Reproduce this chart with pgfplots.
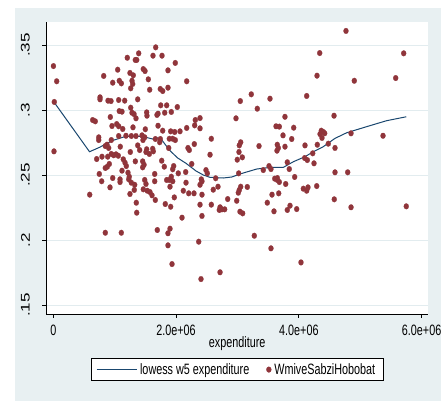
\documentclass[border=0pt]{standalone}
\usepackage{fontspec}
\setmainfont{Liberation Sans}
\newfontfamily\hfont[FakeStretch=0.72]{Liberation Sans}
\newfontfamily\vfont[FakeStretch=1.36]{Liberation Sans}
\usepackage{pgfplots}
\usepackage{pgfplotstable}
\pgfplotsset{compat=1.18}

\definecolor{stnavy}{RGB}{26,71,111}
\definecolor{stmaroon}{RGB}{144,53,59}
\definecolor{stbg}{RGB}{232,240,242}
\definecolor{stgrid}{RGB}{226,236,239}

\newcommand{\htext}{\hfont\fontsize{15}{17}\selectfont}
\newcommand{\vtext}{\vfont\fontsize{12.5}{14}\selectfont}

\pgfplotsset{longline/.style={legend image code/.code={\draw[##1] (0pt,0pt) -- (40pt,0pt);}}}

% share of spending vs. total expenditure
\pgfplotstableread{
x y
0.002e6 0.3338
0.055e6 0.3221
0.016e6 0.3062
0.011e6 0.2682
1.668e6 0.3482
1.771e6 0.3418
1.624e6 0.3418
1.391e6 0.3436
1.205e6 0.3402
1.336e6 0.3385
1.359e6 0.3385
1.987e6 0.3362
1.049e6 0.3310
1.466e6 0.3315
1.494e6 0.3300
1.868e6 0.3305
1.249e6 0.3285
1.303e6 0.3267
0.821e6 0.3262
1.548e6 0.3236
2.173e6 0.3221
1.075e6 0.3225
1.108e6 0.3205
0.968e6 0.3210
1.282e6 0.3225
1.293e6 0.3200
1.261e6 0.3167
1.743e6 0.3162
1.782e6 0.3146
1.868e6 0.3172
1.570e6 0.3156
0.761e6 0.3098
0.761e6 0.3082
0.891e6 0.3072
0.940e6 0.3069
1.065e6 0.3077
1.163e6 0.3072
1.375e6 0.3082
1.750e6 0.3036
1.847e6 0.3036
2.020e6 0.3023
1.261e6 0.3018
1.075e6 0.2992
1.119e6 0.2987
1.282e6 0.2979
1.315e6 0.2969
1.521e6 0.2982
1.526e6 0.2956
1.689e6 0.2962
1.706e6 0.2972
1.815e6 0.2979
1.922e6 0.2985
1.347e6 0.2936
0.929e6 0.2946
0.642e6 0.2923
0.684e6 0.2913
0.956e6 0.2877
1.033e6 0.2892
1.065e6 0.2875
1.131e6 0.2854
1.298e6 0.2867
1.499e6 0.2852
1.706e6 0.2879
1.782e6 0.2841
1.912e6 0.2836
1.978e6 0.2831
2.064e6 0.2836
2.173e6 0.2862
1.065e6 0.2800
1.184e6 0.2802
1.271e6 0.2800
1.347e6 0.2800
1.445e6 0.2805
1.489e6 0.2790
1.461e6 0.2769
0.740e6 0.2790
0.740e6 0.2769
0.945e6 0.2769
1.662e6 0.2777
1.743e6 0.2777
1.733e6 0.2752
1.890e6 0.2779
1.945e6 0.2779
1.987e6 0.2769
0.847e6 0.2723
0.875e6 0.2733
0.902e6 0.2708
1.091e6 0.2718
1.375e6 0.2728
1.407e6 0.2692
1.521e6 0.2698
1.619e6 0.2702
1.629e6 0.2682
1.880e6 0.2708
2.194e6 0.2708
2.215e6 0.2692
1.254e6 0.2677
1.510e6 0.2677
1.564e6 0.2662
0.945e6 0.2662
0.984e6 0.2652
1.021e6 0.2659
1.059e6 0.2648
0.793e6 0.2641
0.707e6 0.2623
0.886e6 0.2641
1.140e6 0.2621
1.168e6 0.2595
1.189e6 0.2569
1.336e6 0.2605
1.456e6 0.2605
1.478e6 0.2579
1.456e6 0.2559
1.766e6 0.2610
1.808e6 0.2564
1.961e6 0.2569
1.945e6 0.2544
0.912e6 0.2585
0.880e6 0.2564
0.847e6 0.2554
2.255e6 0.2585
1.119e6 0.2533
1.217e6 0.2518
1.238e6 0.2487
1.228e6 0.2467
0.749e6 0.2508
1.652e6 0.2508
2.036e6 0.2513
2.157e6 0.2523
1.922e6 0.2487
1.890e6 0.2462
1.945e6 0.2452
0.968e6 0.2477
1.087e6 0.2467
1.087e6 0.2446
0.788e6 0.2452
1.489e6 0.2462
1.510e6 0.2431
1.652e6 0.2452
1.847e6 0.2462
2.162e6 0.2441
1.271e6 0.2441
1.326e6 0.2425
0.924e6 0.2405
1.901e6 0.2410
1.466e6 0.2390
1.531e6 0.2379
1.575e6 0.2369
1.319e6 0.2385
2.118e6 0.2379
1.249e6 0.2354
1.608e6 0.2344
2.206e6 0.2359
0.593e6 0.2349
1.662e6 0.2308
1.971e6 0.2328
1.352e6 0.2287
1.824e6 0.2277
1.912e6 0.2256
1.359e6 0.2210
2.097e6 0.2172
0.847e6 0.2056
1.108e6 0.2056
1.694e6 0.2077
1.868e6 0.2052
1.901e6 0.2087
1.868e6 0.1959
1.934e6 0.1815
4.296e6 0.3264
4.128e6 0.3108
3.225e6 0.3121
3.046e6 0.3069
3.530e6 0.3087
3.323e6 0.3010
2.976e6 0.2936
2.313e6 0.2923
2.303e6 0.2882
2.390e6 0.2938
2.390e6 0.2859
3.774e6 0.2948
3.628e6 0.2875
3.682e6 0.2872
3.916e6 0.2864
3.742e6 0.2805
3.884e6 0.2777
2.574e6 0.2779
2.297e6 0.2738
3.053e6 0.2752
3.030e6 0.2728
3.025e6 0.2677
2.997e6 0.2618
3.079e6 0.2636
3.351e6 0.2723
3.649e6 0.2733
3.665e6 0.2708
3.644e6 0.2687
3.774e6 0.2718
4.100e6 0.2728
4.301e6 0.2733
4.226e6 0.2667
4.095e6 0.2631
4.138e6 0.2615
4.247e6 0.2590
2.553e6 0.2656
3.812e6 0.2598
3.844e6 0.2546
3.514e6 0.2569
3.546e6 0.2546
3.421e6 0.2538
2.487e6 0.2538
2.509e6 0.2513
3.020e6 0.2513
2.411e6 0.2467
2.390e6 0.2425
2.422e6 0.2452
2.645e6 0.2475
3.607e6 0.2472
3.649e6 0.2462
3.682e6 0.2446
3.649e6 0.2477
3.932e6 0.2485
3.786e6 0.2431
2.683e6 0.2410
2.606e6 0.2387
3.053e6 0.2410
3.030e6 0.2385
3.014e6 0.2364
3.160e6 0.2408
4.073e6 0.2395
4.128e6 0.2379
4.149e6 0.2405
4.291e6 0.2415
2.292e6 0.2359
2.422e6 0.2349
3.563e6 0.2349
3.672e6 0.2359
2.841e6 0.2315
2.988e6 0.2302
3.486e6 0.2287
2.390e6 0.2272
2.574e6 0.2272
2.716e6 0.2252
2.704e6 0.2231
2.748e6 0.2236
2.792e6 0.2236
3.856e6 0.2264
3.812e6 0.2231
3.965e6 0.2238
3.041e6 0.2218
3.085e6 0.2205
3.595e6 0.2221
2.422e6 0.2185
3.274e6 0.2033
2.369e6 0.1987
3.546e6 0.1936
4.035e6 0.1828
2.716e6 0.1752
2.406e6 0.1700
4.768e6 0.3608
4.340e6 0.3438
5.708e6 0.3436
4.903e6 0.3225
5.578e6 0.3246
4.573e6 0.2956
4.366e6 0.2841
4.345e6 0.2815
4.421e6 0.2821
4.377e6 0.2785
4.398e6 0.2831
4.850e6 0.2821
5.371e6 0.2802
4.480e6 0.2741
4.589e6 0.2708
4.589e6 0.2521
4.796e6 0.2521
4.577e6 0.2313
4.850e6 0.2252
5.750e6 0.2259
}\scatterdata

% lowess smooth (bandwidth w5)
\pgfplotstableread{
x y
0.016e6 0.3058
0.590e6 0.2679
0.753e6 0.2713
0.964e6 0.2765
1.184e6 0.2798
1.456e6 0.2796
1.619e6 0.2777
1.681e6 0.2788
1.763e6 0.2773
1.890e6 0.2692
2.026e6 0.2631
2.162e6 0.2590
2.325e6 0.2531
2.444e6 0.2500
2.553e6 0.2482
2.769e6 0.2477
2.911e6 0.2485
3.041e6 0.2508
3.313e6 0.2546
3.530e6 0.2559
3.747e6 0.2559
3.910e6 0.2602
4.100e6 0.2641
4.235e6 0.2679
4.398e6 0.2718
4.589e6 0.2782
4.779e6 0.2825
5.105e6 0.2872
5.431e6 0.2918
5.750e6 0.2948
}\lowessdata

\begin{document}
\begin{tikzpicture}[x=1pt,y=1pt]
\fill[white] (0,0) rectangle (441,401);
\fill[stbg] (15,0) rectangle (441,393);
\begin{axis}[
  at={(46pt,87pt)}, anchor=south west,
  scale only axis, width=382.3pt, height=292pt,
  xmin=-0.119e6, xmax=6.109e6,
  ymin=0.1431, ymax=0.3677,
  axis background/.style={fill=white},
  axis x line*=bottom, axis y line*=left,
  axis line style={black, line width=0.8pt},
  tick align=outside, major tick length=4pt,
  tick style={black, line width=0.8pt},
  scaled x ticks=false, scaled y ticks=false,
  xtick={0,2e6,4e6,6e6},
  xticklabels={0,2.0e+06,4.0e+06,6.0e+06},
  ytick={0.15,0.2,0.25,0.3,0.35},
  yticklabels={.15,.2,.25,.3,.35},
  ymajorgrids, grid style={stgrid, line width=1pt},
  xticklabel style={font=\htext, inner sep=0pt, anchor=north},
  xticklabel shift=7pt,
  yticklabel style={font=\vtext, inner sep=0pt, rotate=90, anchor=south},
  yticklabel shift=12pt,
  xlabel={expenditure},
  xlabel style={font=\htext, inner sep=0pt, yshift=-1pt},
  legend columns=2,
  legend cell align=left,
  legend style={at={(0.5,-0.151)}, anchor=north, draw=black, line width=0.6pt,
    fill=white, font=\htext, inner xsep=5pt, inner ysep=3pt,
    nodes={inner xsep=3pt, inner ysep=2pt},
    /tikz/every even column/.append style={column sep=14pt}},
]
\addplot[stnavy, line width=1pt, longline]
  table[x=x, y=y] {\lowessdata};
\addlegendentry{lowess w5 expenditure}
\addplot[only marks, color=stmaroon, mark=*, mark size=2.5pt, mark options={fill=stmaroon, draw=stmaroon, line width=0.2pt, yscale=1.15}]
  table[x=x, y=y] {\scatterdata};
\addlegendentry{WmiveSabziHobobat}
\end{axis}
\pgfresetboundingbox
\path (0,0) rectangle (441,401);
\end{tikzpicture}
\end{document}
